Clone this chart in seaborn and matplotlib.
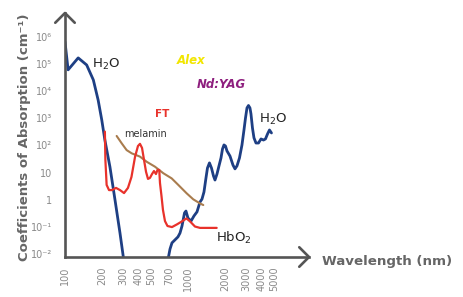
import matplotlib
matplotlib.use("Agg")
from matplotlib import pyplot as plt
import pandas as pd
import seaborn as sns
import numpy as np

# absorption spectra, wavelength in nm, absorption as log10(cm^-1)
h2o_uv_nm = [100, 106, 128, 150, 170, 186, 199, 211, 232, 255, 280, 298]
h2o_uv_log = [5.81, 4.78, 5.22, 4.96, 4.41, 3.67, 2.94, 2.20, 1.21, 0.0, -1.22, -2.10]

h2o_ir_nm = [694, 714, 741, 784, 829, 861, 894, 937, 963, 1000, 1058, 1119, 1184,
             1252, 1300, 1349, 1401, 1440, 1495, 1553, 1612, 1658, 1721, 1787,
             1855, 1908, 1962, 2018, 2075, 2196, 2322, 2411, 2503, 2622, 2748,
             2853, 2935, 3018, 3104, 3191, 3252, 3345, 3440, 3572, 3743, 3923,
             4111, 4267, 4430, 4599, 4774]
h2o_ir_log = [-2.10, -1.81, -1.58, -1.47, -1.36, -1.22, -0.96, -0.48, -0.41, -0.67,
              -0.78, -0.59, -0.44, -0.08, 0.03, 0.29, 0.81, 1.17, 1.36, 1.17, 0.88,
              0.73, 0.95, 1.25, 1.54, 1.87, 2.02, 1.98, 1.80, 1.61, 1.28, 1.14,
              1.25, 1.54, 2.02, 2.57, 3.01, 3.38, 3.47, 3.38, 3.16, 2.64, 2.28,
              2.09, 2.09, 2.24, 2.20, 2.24, 2.42, 2.57, 2.46]

hbo2_nm = [211, 213, 218, 228, 241, 260, 280, 302, 325, 347, 371, 392, 407, 423,
           439, 456, 473, 491, 510, 529, 549, 565, 584, 592, 609, 626, 650, 681,
           741, 814, 894, 972, 1038, 1140, 1252, 1711]
hbo2_log = [2.51, 1.47, 0.55, 0.36, 0.36, 0.44, 0.36, 0.25, 0.44, 0.84, 1.58, 1.98,
            2.06, 1.91, 1.47, 1.03, 0.77, 0.81, 0.95, 1.06, 0.95, 1.10, 1.10, 0.62,
            0.14, -0.37, -0.78, -0.96, -1.00, -0.90, -0.79, -0.68, -0.79, -0.98,
            -1.03, -1.03]

melanin_nm = [263, 289, 317, 349, 407, 462, 539, 630, 737, 834, 976, 1104, 1252, 1332]
melanin_log = [2.35, 2.08, 1.83, 1.71, 1.59, 1.40, 1.22, 0.98, 0.79, 0.55, 0.24,
               0.02, -0.13, -0.19]

x_ticks = [100, 200, 300, 400, 500, 700, 1000, 2000, 3000, 4000, 5000]
y_ticks = [1e-2, 1e-1, 1, 10, 1e2, 1e3, 1e4, 1e5, 1e6]
y_labels = ["10⁻²", "10⁻¹", "1", "10", "10²", "10³", "10⁴", "10⁵", "10⁶"]

AXIS = "#555555"
TICK_TXT = "#8a8a8a"
BLUE = "#1e3f84"
RED = "#e8322b"
BROWN = "#a97c4e"


def to_df(nm, logv):
    return pd.DataFrame({"nm": nm, "absorption": 10 ** np.array(logv)})


sns.set_style("white")
plt.rcParams["font.family"] = ["DejaVu Sans"]

W, H = 463, 297
fig = plt.figure(figsize=(W / 100, H / 100), dpi=100)
ax = fig.add_axes([65 / W, 40 / H, 244 / W, 244 / H])

for nm, logv, col, lw in [(h2o_uv_nm, h2o_uv_log, BLUE, 2.0),
                          (h2o_ir_nm, h2o_ir_log, BLUE, 2.0),
                          (melanin_nm, melanin_log, BROWN, 1.5),
                          (hbo2_nm, hbo2_log, RED, 1.6)]:
    sns.lineplot(data=to_df(nm, logv), x="nm", y="absorption", sort=False,
                 estimator=None, color=col, lw=lw, ax=ax,
                 solid_joinstyle="round", solid_capstyle="round")

ax.set_xscale("log")
ax.set_yscale("log")
ax.set_xlim(100, 10 ** 3.984)
ax.set_ylim(10 ** -2.1, 10 ** 6.87)
ax.minorticks_off()
ax.set_xticks(x_ticks)
ax.set_xticklabels([str(t) for t in x_ticks], rotation=90, color=TICK_TXT, fontsize=7)
ax.set_yticks(y_ticks)
ax.set_yticklabels(y_labels, color=TICK_TXT, fontsize=7)
ax.tick_params(axis="both", length=4, width=1.8, color=AXIS, pad=3)
ax.tick_params(axis="y", pad=5)
ax.set_xlabel("")
ax.set_ylabel("")

for s in ["top", "right"]:
    ax.spines[s].set_visible(False)
for s in ["left", "bottom"]:
    ax.spines[s].set_color(AXIS)
    ax.spines[s].set_linewidth(1.9)

# open arrow heads at the ends of the axes
ax.plot([-0.04, 0, 0.04], [0.96, 1.0, 0.96], transform=ax.transAxes,
        color=AXIS, lw=1.9, clip_on=False, solid_capstyle="round")
ax.plot([0.96, 1.0, 0.96], [0.04, 0, -0.04], transform=ax.transAxes,
        color=AXIS, lw=1.9, clip_on=False, solid_capstyle="round")

fig.text(322 / W, 1 - 262 / H, "Wavelength (nm)", color="#666666",
         fontsize=9.6, fontweight="bold", va="center", ha="left")
fig.text(25 / W, 1 - 137 / H, "Coefficients of Absorption (cm⁻¹)", color="#666666",
         fontsize=9.5, fontweight="bold", rotation=90, va="center", ha="center")


def label(x, y, s, **kw):
    fig.text(x / W, 1 - y / H, s, va="center", ha="left", **kw)


label(92, 64, "H$_2$O", fontsize=9.5, color="#222222")
label(259, 119, "H$_2$O", fontsize=9.5, color="#222222")
label(216, 238, "HbO$_2$", fontsize=9.5, color="#222222")
label(177, 60, "Alex", fontsize=8.5, color="#f2e600", fontweight="bold", style="italic")
label(197, 85, "Nd:YAG", fontsize=8.5, color="#8e1f7e", fontweight="bold", style="italic")
label(155, 114, "FT", fontsize=7.5, color=RED, fontweight="bold")
label(124, 134, "melamin", fontsize=7, color="#333333")

fig.savefig("out.png", dpi=100)
